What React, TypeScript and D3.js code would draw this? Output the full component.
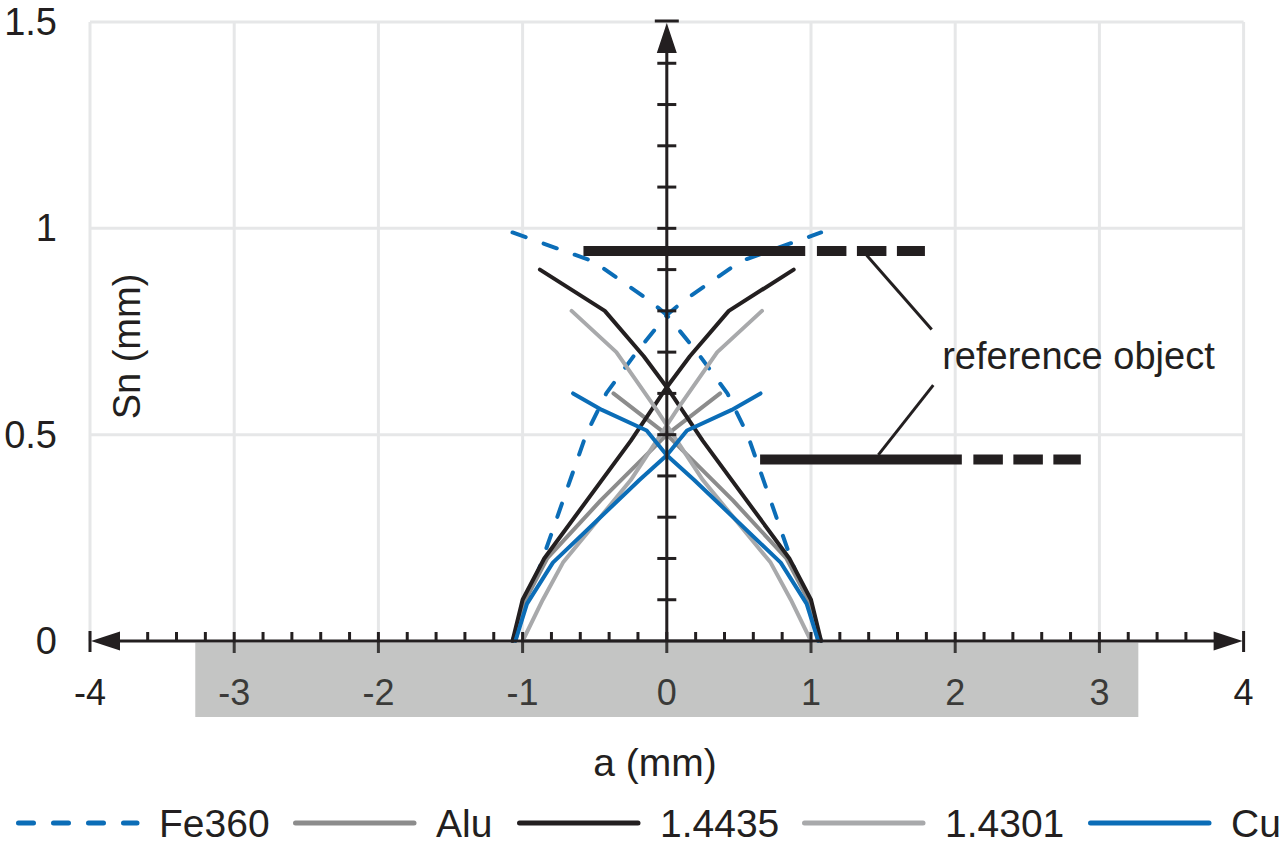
import * as d3 from 'd3';
import { useEffect, useRef } from 'react';

// [a (mm), Sn (mm)]. "Up" = branch rising left to right, "Down" = falling branch
const fe360Up = [[-1.07, 0], [-0.87, 0.19], [-0.7, 0.36], [-0.56, 0.5], [-0.42, 0.6], [-0.21, 0.7], [0, 0.79], [0.12, 0.825], [0.51, 0.92], [1.07, 0.99]];
const fe360Down = [[-1.07, 0.99], [-0.51, 0.92], [-0.12, 0.825], [0, 0.79], [0.21, 0.7], [0.42, 0.6], [0.56, 0.5], [0.7, 0.36], [0.87, 0.19], [1.07, 0]];

const aluUp = [[-1.05, 0], [-0.98, 0.1], [-0.83, 0.2], [-0.46, 0.34], [0, 0.5], [0.37, 0.6]];
const aluDown = [[-0.37, 0.6], [0, 0.5], [0.46, 0.34], [0.83, 0.2], [0.98, 0.1], [1.05, 0]];

const s14435Up = [[-1.07, 0], [-1.0, 0.1], [-0.85, 0.2], [-0.25, 0.485], [0, 0.615], [0.16, 0.69], [0.43, 0.8], [0.88, 0.9]];
const s14435Down = [[-0.88, 0.9], [-0.43, 0.8], [-0.16, 0.69], [0, 0.615], [0.25, 0.485], [0.85, 0.2], [1.0, 0.1], [1.07, 0]];

const s14301Up = [[-1.0, 0], [-0.86, 0.1], [-0.72, 0.19], [-0.25, 0.39], [0.07, 0.56], [0.35, 0.7], [0.66, 0.8]];
const s14301Down = [[-0.66, 0.8], [-0.35, 0.7], [-0.07, 0.56], [0.25, 0.39], [0.72, 0.19], [0.86, 0.1], [1.0, 0], [-1.0, 0]];

const cuUp = [[-1.05, 0], [-0.97, 0.09], [-0.79, 0.19], [-0.19, 0.39], [0, 0.45], [0.14, 0.51], [0.45, 0.56], [0.65, 0.6]];
const cuDown = [[-0.65, 0.6], [-0.45, 0.56], [-0.14, 0.51], [0, 0.45], [0.19, 0.39], [0.79, 0.19], [0.97, 0.09], [1.05, 0]];

const seriesNames = ['Fe360', 'Alu', '1.4435', '1.4301', 'Cu'];

// reference objects: bar height Sn, solid and dashed extent in a
const refObjects = [
    { sn: 0.945, solid: [-0.578, 0.96], dashed: [1.041, 1.79] },
    { sn: 0.44, solid: [0.647, 2.046], dashed: [2.126, 2.871] },
];
const leaderLines = [
    [[1.386, 0.935], [1.837, 0.755]],
    [[1.848, 0.62], [1.467, 0.451]],
];

const xTickLabels = [-4, -3, -2, -1, 0, 1, 2, 3, 4];
const yTickLabels = [0, 0.5, 1, 1.5];
const shadedBand = [-3.27, 3.27];

const INK = '#231f20';
const BLUE = '#0b6db7';
const FONT = '"Liberation Sans", Arial, sans-serif';

export default function App() {
    const ref = useRef<SVGSVGElement>(null);

    useEffect(() => {
        const svg = d3.select(ref.current);
        svg.selectAll('*').remove();

        const x = d3.scaleLinear().domain([-4, 4]).range([90, 1243.6]);
        const y = d3.scaleLinear().domain([0, 1.5]).range([641, 22]);
        const x0 = x(0);
        const y0 = y(0);

        //grid
        const grid = svg.append('g').attr('stroke', '#e6e7e8').attr('stroke-width', 3);
        grid.selectAll('.gv').data(xTickLabels).join('line')
            .attr('x1', d => x(d)).attr('x2', d => x(d))
            .attr('y1', y0).attr('y2', y(1.5));
        grid.selectAll('.gh').data(yTickLabels.slice(1)).join('line')
            .attr('x1', x(-4)).attr('x2', x(4))
            .attr('y1', d => y(d)).attr('y2', d => y(d));

        //curves
        const series = [
            { color: BLUE, dash: '14,19', up: fe360Up, down: fe360Down },
            { color: '#8c8c8c', dash: null, up: aluUp, down: aluDown },
            { color: INK, dash: null, up: s14435Up, down: s14435Down },
            { color: '#a8a9ab', dash: null, up: s14301Up, down: s14301Down },
            { color: BLUE, dash: null, up: cuUp, down: cuDown },
        ];
        const line = d3.line<number[]>().x(d => x(d[0])).y(d => y(d[1]));
        const curves = svg.append('g').attr('fill', 'none');
        series.forEach(s => {
            [s.up, s.down].forEach(pts => {
                curves.append('path')
                    .attr('d', line(pts))
                    .attr('stroke', s.color)
                    .attr('stroke-width', 4)
                    .attr('stroke-linecap', 'round')
                    .attr('stroke-linejoin', 'round')
                    .attr('stroke-dasharray', s.dash);
            });
        });

        //reference object bars + leaders
        const bars = svg.append('g').attr('stroke', INK);
        refObjects.forEach(r => {
            bars.append('line')
                .attr('x1', x(r.solid[0])).attr('x2', x(r.solid[1]))
                .attr('y1', y(r.sn)).attr('y2', y(r.sn))
                .attr('stroke-width', 10);
            bars.append('line')
                .attr('x1', x(r.dashed[0])).attr('x2', x(r.dashed[1]))
                .attr('y1', y(r.sn)).attr('y2', y(r.sn))
                .attr('stroke-width', 10)
                .attr('stroke-dasharray', '29.5,10.5');
        });
        bars.selectAll('.leader').data(leaderLines).join('line')
            .attr('x1', d => x(d[0][0])).attr('y1', d => y(d[0][1]))
            .attr('x2', d => x(d[1][0])).attr('y2', d => y(d[1][1]))
            .attr('stroke-width', 3);

        //axes
        const ax = svg.append('g').attr('stroke', INK).attr('stroke-width', 3);
        ax.append('line').attr('x1', x(-4) + 20).attr('x2', x(4) - 20).attr('y1', y0).attr('y2', y0);
        ax.selectAll('.end').data([-4, 4]).join('line')
            .attr('x1', d => x(d)).attr('x2', d => x(d))
            .attr('y1', y0 - 10).attr('y2', y0 + 11);
        const minor = d3.range(-18, 19).map(i => i * 0.2)
            .filter(v => Math.abs(v - Math.round(v)) > 1e-6);
        ax.selectAll('.minor').data(minor).join('line')
            .attr('x1', d => x(d)).attr('x2', d => x(d))
            .attr('y1', y0 - 9).attr('y2', y0);
        ax.selectAll('.major').data(xTickLabels.slice(1, -1)).join('line')
            .attr('x1', d => x(d)).attr('x2', d => x(d))
            .attr('y1', y0 - 9).attr('y2', y0 + 12);

        ax.append('line').attr('x1', x0).attr('x2', x0).attr('y1', y0).attr('y2', y(1.5) + 20);
        ax.append('line').attr('x1', x0 - 12).attr('x2', x0 + 12).attr('y1', y(1.5) - 1).attr('y2', y(1.5) - 1);
        ax.selectAll('.ytick').data(d3.range(1, 15).map(i => i / 10)).join('line')
            .attr('x1', x0 - 9.5).attr('x2', x0 + 9.5)
            .attr('y1', d => y(d)).attr('y2', d => y(d));

        const arrows = [
            [[x(-4) + 1, y0], [x(-4) + 30, y0 - 9.5], [x(-4) + 30, y0 + 9.5]],
            [[x(4) - 1, y0], [x(4) - 30, y0 - 9.5], [x(4) - 30, y0 + 9.5]],
            [[x0, y(1.5) + 1], [x0 - 10, y(1.5) + 31], [x0 + 10, y(1.5) + 31]],
        ];
        svg.append('g').selectAll('polygon').data(arrows).join('polygon')
            .attr('points', d => d.map(p => p.join(',')).join(' '))
            .attr('fill', INK);

        //tick labels
        const txt = svg.append('g').attr('font-family', FONT).attr('fill', INK);
        txt.selectAll('.xl').data(xTickLabels).join('text')
            .attr('x', d => x(d)).attr('y', 705)
            .attr('text-anchor', 'middle').attr('font-size', 36)
            .text(d => String(d));
        txt.selectAll('.yl').data(yTickLabels).join('text')
            .attr('x', 57).attr('y', d => y(d) + 13)
            .attr('text-anchor', 'end').attr('font-size', 38)
            .text(d => String(d));

        //translucent band below the axis
        svg.append('rect')
            .attr('x', x(shadedBand[0])).attr('width', x(shadedBand[1]) - x(shadedBand[0]))
            .attr('y', y0 + 1.5).attr('height', 717 - y0 - 1.5)
            .attr('fill', '#646665').attr('fill-opacity', 0.382);

        //titles
        txt.append('text').attr('x', 655).attr('y', 776).attr('text-anchor', 'middle')
            .attr('font-size', 39).text('a (mm)');
        txt.append('text').attr('transform', 'translate(140,346.5) rotate(-90)').attr('text-anchor', 'middle')
            .attr('font-size', 38).text('Sn (mm)');
        txt.append('text').attr('x', x(1.91)).attr('y', y(0.658))
            .attr('font-size', 38).text('reference object');

        //legend
        const legendX = [16, 293, 517, 802, 1088];
        const lg = svg.append('g').attr('font-family', FONT);
        series.forEach((s, i) => {
            lg.append('line')
                .attr('x1', legendX[i] + 2.5).attr('x2', legendX[i] + 121)
                .attr('y1', 823).attr('y2', 823)
                .attr('stroke', s.color).attr('stroke-width', 5)
                .attr('stroke-linecap', 'round')
                .attr('stroke-dasharray', s.dash ? '15,20' : null);
            lg.append('text')
                .attr('x', legendX[i] + 143).attr('y', 837)
                .attr('font-size', 39).attr('fill', INK)
                .text(seriesNames[i]);
        });
    }, []);

    return (
        <svg ref={ref} width={1280} height={849}
            style={{ position: 'absolute', left: 0, top: 0, background: '#fff' }} />
    );
}
